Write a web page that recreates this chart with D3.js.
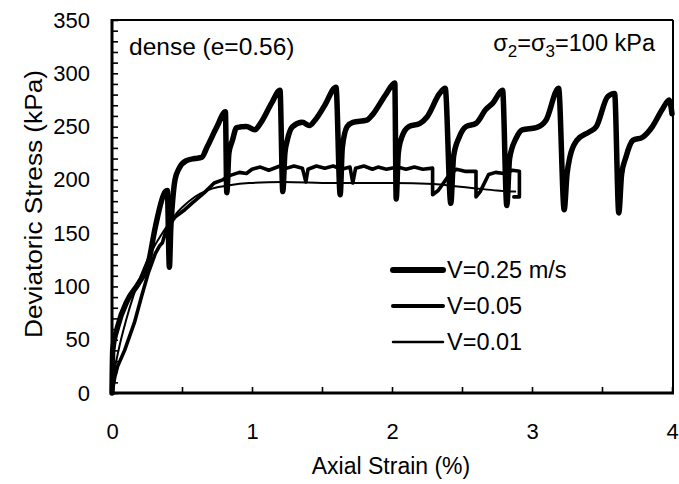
<!DOCTYPE html>
<html>
<head>
<meta charset="utf-8">
<script src="https://cdn.jsdelivr.net/npm/d3@7.9.0/dist/d3.min.js"></script>
<style>
  body { margin: 0; background: #fff; }
  svg { display: block; font-family: 'Liberation Sans', Arial, sans-serif; }
  .axis path { display: none; }
  .axis line { stroke: #000; stroke-width: 1.6; }
  .axis text { fill: #000; font-size: 22px; font-family: 'Liberation Sans', Arial, sans-serif; }
</style>
</head>
<body>
<svg id="chart" width="679" height="484"></svg>
<script>
// strain (%) , deviatoric stress (kPa)
const fastCurve = [
  [0, 0], [0.005, 40], [0.04, 62], [0.11, 87], [0.19, 103], [0.26, 122], [0.31, 156],
  [0.38, 189], [0.395, 190], [0.41, 118], [0.42, 155], [0.43, 175], [0.45, 200],
  [0.48, 211], [0.53, 218], [0.59, 220], [0.64, 221], [0.68, 231], [0.75, 250], [0.81, 264],
  [0.82, 188], [0.835, 225], [0.86, 237], [0.89, 249], [0.96, 250], [1.02, 247], [1.06, 253],
  [1.14, 272], [1.2, 284], [1.22, 189], [1.235, 225], [1.25, 236], [1.29, 250], [1.36, 254],
  [1.41, 251], [1.45, 256], [1.52, 270], [1.6, 287], [1.63, 186], [1.645, 230], [1.68, 250],
  [1.72, 254], [1.82, 256], [1.86, 261], [1.96, 281], [2.02, 291], [2.03, 182], [2.045, 225],
  [2.07, 240], [2.12, 250], [2.2, 253], [2.25, 259], [2.34, 281], [2.38, 286], [2.42, 178],
  [2.44, 222], [2.48, 240], [2.53, 250], [2.6, 253], [2.67, 266], [2.72, 272], [2.79, 284],
  [2.82, 176], [2.84, 220], [2.89, 240], [2.93, 247], [3.03, 249], [3.1, 256], [3.19, 286],
  [3.23, 172], [3.25, 205], [3.27, 221], [3.32, 237], [3.41, 245], [3.46, 250], [3.54, 278],
  [3.59, 281], [3.62, 169], [3.64, 205], [3.67, 221], [3.72, 237], [3.79, 240], [3.86, 250],
  [3.93, 266], [3.98, 275], [4.0, 262]
];

const midCurve = [
  [0, 0], [0.02, 15], [0.04, 25], [0.09, 40], [0.16, 66], [0.21, 90], [0.26, 113],
  [0.31, 131], [0.34, 138], [0.36, 141], [0.38, 150], [0.4, 156], [0.45, 165], [0.52, 172],
  [0.57, 178], [0.66, 188], [0.73, 197], [0.79, 200], [0.84, 204], [0.91, 207], [0.96, 206],
  [1.0, 210], [1.06, 212], [1.12, 209], [1.2, 213], [1.25, 211], [1.3, 213], [1.36, 211],
  [1.385, 198], [1.4, 210], [1.46, 213], [1.52, 211], [1.58, 213], [1.64, 210], [1.7, 212],
  [1.72, 197], [1.74, 211], [1.8, 213], [1.86, 210], [1.9, 212], [1.96, 210], [2.04, 212],
  [2.1, 210], [2.16, 212], [2.22, 210], [2.29, 211], [2.29, 186], [2.33, 190], [2.4, 203],
  [2.46, 210], [2.52, 208], [2.6, 208], [2.6, 184], [2.63, 189], [2.69, 205], [2.74, 207],
  [2.8, 206], [2.86, 209], [2.91, 208], [2.91, 184], [2.87, 184]
];

const slowCurve = [
  [0, 0], [0.02, 22], [0.05, 42], [0.1, 68], [0.15, 90], [0.2, 108], [0.25, 124],
  [0.3, 137], [0.35, 148], [0.4, 158], [0.45, 167], [0.5, 174], [0.55, 180], [0.63, 187],
  [0.72, 192], [0.84, 195], [0.98, 197], [1.22, 198], [1.58, 197], [2.0, 197], [2.3, 196],
  [2.45, 194], [2.6, 192], [2.75, 190], [2.88, 189]
];

const seriesLabels = ['V=0.25 m/s', 'V=0.05', 'V=0.01'];
const xTickLabels = [0, 1, 2, 3, 4];
const yTickLabels = [0, 50, 100, 150, 200, 250, 300, 350];

const lineWidths = [5.5, 3.6, 2];

const svg = d3.select('#chart');

const x = d3.scaleLinear().domain([0, 4]).range([112, 672]);
const y = d3.scaleLinear().domain([0, 350]).range([393, 20]);

// minor ticks, drawn inside the frame
svg.append('g')
  .attr('class', 'axis')
  .attr('transform', 'translate(112,0)')
  .call(d3.axisLeft(y).tickValues(d3.range(0, 351, 10)).tickSize(-6).tickFormat(''));

svg.append('g')
  .attr('class', 'axis')
  .attr('transform', 'translate(0,393)')
  .call(d3.axisBottom(x).tickValues(d3.range(0, 4.01, 0.5)).tickSize(-6).tickFormat(''));

// labels
svg.append('g')
  .attr('class', 'axis')
  .attr('transform', 'translate(112,0)')
  .call(d3.axisLeft(y).tickValues(yTickLabels).tickSize(0).tickPadding(22));

svg.append('g')
  .attr('class', 'axis')
  .attr('transform', 'translate(0,393)')
  .call(d3.axisBottom(x).tickValues(xTickLabels).tickSize(0).tickPadding(30).tickFormat(d3.format('d')));

// frame
svg.append('line').attr('x1', 112).attr('x2', 673).attr('y1', 20).attr('y2', 20)
  .attr('stroke', '#000').attr('stroke-width', 2);
svg.append('line').attr('x1', 673).attr('x2', 673).attr('y1', 20).attr('y2', 394)
  .attr('stroke', '#000').attr('stroke-width', 2);
svg.append('line').attr('x1', 112).attr('x2', 112).attr('y1', 19).attr('y2', 395)
  .attr('stroke', '#000').attr('stroke-width', 3);
svg.append('line').attr('x1', 111).attr('x2', 674).attr('y1', 393).attr('y2', 393)
  .attr('stroke', '#000').attr('stroke-width', 3);

// monotone smoothing keeps the sharp drops without overshoot
const smoothLine = d3.line()
  .x((d) => x(d[0]))
  .y((d) => y(d[1]))
  .curve(d3.curveMonotoneX);

const plainLine = d3.line()
  .x((d) => x(d[0]))
  .y((d) => y(d[1]));

const curves = [fastCurve, midCurve, slowCurve];

svg.append('g')
  .selectAll('path')
  .data(curves)
  .join('path')
  .attr('d', (d, i) => (i === 1 ? plainLine(d) : smoothLine(d)))
  .attr('fill', 'none')
  .attr('stroke', '#000')
  .attr('stroke-width', (d, i) => lineWidths[i])
  .attr('stroke-linejoin', 'round')
  .attr('stroke-linecap', 'round');

// legend
const legend = svg.append('g');
seriesLabels.forEach((label, i) => {
  const cy = 270 + i * 36;
  legend.append('line')
    .attr('x1', 393).attr('x2', 443)
    .attr('y1', cy).attr('y2', cy)
    .attr('stroke', '#000')
    .attr('stroke-width', lineWidths[i] + 0.5)
    .attr('stroke-linecap', 'round');
  legend.append('text')
    .attr('x', 447)
    .attr('y', cy + 8)
    .attr('font-size', 23.5)
    .text(label);
});

// annotations
svg.append('text')
  .attr('x', 129)
  .attr('y', 55)
  .attr('font-size', 24.5)
  .text('dense (e=0.56)');

const sig = svg.append('text')
  .attr('x', 655)
  .attr('y', 51)
  .attr('text-anchor', 'end')
  .attr('font-size', 23.5);
sig.append('tspan').text('σ');
sig.append('tspan').attr('font-size', 17).attr('dy', 6).text('2');
sig.append('tspan').attr('dy', -6).text('=σ');
sig.append('tspan').attr('font-size', 17).attr('dy', 6).text('3');
sig.append('tspan').attr('dy', -6).text('=100 kPa');

// axis titles
svg.append('text')
  .attr('x', 391)
  .attr('y', 474)
  .attr('text-anchor', 'middle')
  .attr('font-size', 23)
  .text('Axial Strain (%)');

svg.append('text')
  .attr('transform', 'translate(42,204) rotate(-90)')
  .attr('text-anchor', 'middle')
  .attr('font-size', 23)
  .attr('textLength', 268)
  .attr('lengthAdjust', 'spacingAndGlyphs')
  .text('Deviatoric Stress (kPa)');
</script>
</body>
</html>
